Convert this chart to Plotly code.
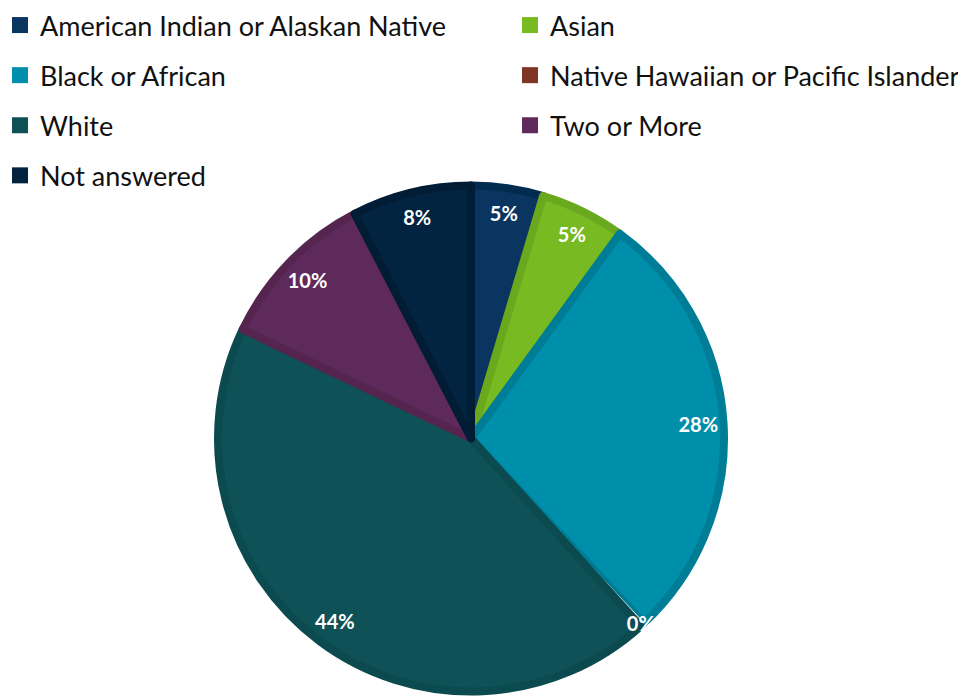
import plotly.graph_objects as go

categories = ["American Indian or Alaskan Native", "Asian", "Black or African",
              "Native Hawaiian or Pacific Islander", "White", "Two or More", "Not answered"]
values = [4.6, 5.4, 28.0, 0.3, 43.8, 10.3, 7.6]
legend_colors = ["#0A3560", "#78BA22", "#008FAB", "#7F3526", "#0E5257", "#5E2A5C", "#022440"]
legend_column = ["legend", "legend2", "legend", "legend2", "legend", "legend2", "legend"]
fill_colors = ["#0A3560", "#78BA22", "#008FAB", "#D5E2E3", "#0E5257", "#5E2A5C", "#022440"]
edge_colors = ["#022B50", "#6AA81E", "#007D96", "#D5E2E3", "#0B4A4E", "#55254F", "#011C35"]
edge_widths = [8, 8, 8, 1, 8, 8, 8]

W, H = 966, 696
OFF = 8  # page body margin
cx, cy, r = 471 - OFF, 438.5 - OFF, 253
dom = dict(x=[(cx - r) / W, (cx + r) / W], y=[1 - (cy + r) / H, 1 - (cy - r) / H])

fig = go.Figure()

# main pie (slices)
fig.add_trace(go.Pie(
    labels=categories, values=values, sort=False, direction="clockwise", rotation=0,
    marker=dict(colors=fill_colors, line=dict(color=edge_colors, width=edge_widths)),
    textinfo="none", hoverinfo="label+percent", showlegend=False, domain=dom,
))

# label layer: transparent ring so percentage labels sit near the rim
fig.add_trace(go.Pie(
    labels=categories, values=values, sort=False, direction="clockwise", rotation=0,
    hole=0.8,
    marker=dict(colors=["rgba(0,0,0,0)"] * len(values), line=dict(width=0)),
    texttemplate="%{percent:.0%}", textposition="inside",
    insidetextorientation="horizontal",
    textfont=dict(family="Lato", size=20, color="white", weight="bold"),
    hoverinfo="skip", showlegend=False, domain=dom,
))

# legend entries (two columns)
for name, col, lg in zip(categories, legend_colors, legend_column):
    fig.add_trace(go.Scatter(
        x=[None], y=[None], mode="markers", name=name, legendgroup=name, legend=lg,
        marker=dict(symbol="square", size=16, color=col),
        hoverinfo="skip",
    ))

leg_common = dict(
    orientation="v", yanchor="top", xanchor="left",
    tracegroupgap=12, itemwidth=30, traceorder="grouped",
    font=dict(family="Lato", size=27, color="#111111"),
    bgcolor="rgba(0,0,0,0)", maxheight=400,
)

fig.update_layout(
    width=W, height=H,
    margin=dict(l=0, r=0, t=0, b=0, autoexpand=False),
    paper_bgcolor="white", plot_bgcolor="white",
    xaxis=dict(visible=False), yaxis=dict(visible=False),
    uniformtext=dict(minsize=20, mode="show"),
    showlegend=True,
    legend=dict(x=-8 / W, y=1 + 7 / H, **leg_common),
    legend2=dict(x=502 / W, y=1 + 7 / H, **leg_common),
)

fig.write_html("out.html")
